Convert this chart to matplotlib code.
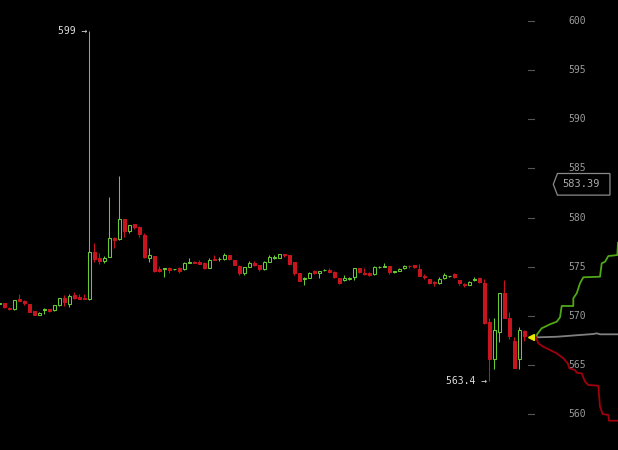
import matplotlib
matplotlib.use("Agg")
import matplotlib.pyplot as plt
import numpy as np
from matplotlib.patches import Polygon

# candles, one per period (oldest first)
opens = [571.26, 571.28, 570.83, 570.67, 571.72, 571.52, 571.21, 570.50, 570.12, 570.60,
         570.70, 570.60, 571.11, 571.82, 571.21, 572.16, 571.89, 571.85, 571.72, 576.47,
         575.92, 575.62, 576.02, 577.95, 577.79, 579.83, 578.67, 579.32, 579.08, 578.26,
         575.92, 576.09, 574.77, 574.74, 574.84, 574.74, 574.84, 574.74, 575.41, 575.52,
         575.52, 575.41, 574.90, 575.79, 575.76, 575.76, 576.19, 575.69, 575.08, 574.33,
         575.01, 575.35, 575.18, 574.74, 575.52, 575.86, 575.92, 576.26, 576.19, 575.45,
         574.33, 573.72, 573.88, 574.60, 574.33, 574.64, 574.67, 574.50, 573.85, 573.65,
         573.79, 573.92, 574.84, 574.36, 574.40, 574.23, 574.94, 575.01, 575.08, 574.50,
         574.57, 574.84, 575.11, 575.18, 574.74, 574.09, 573.72, 573.41, 573.31, 573.82,
         574.03, 574.23, 573.65, 573.25, 573.14, 573.62, 573.82, 573.31, 569.35, 565.58,
         568.40, 572.30, 569.76, 567.48, 565.62, 568.43]
highs = [571.36, 571.36, 570.90, 571.67, 572.23, 571.57, 571.26, 570.55, 570.40, 570.84,
         570.75, 571.16, 571.87, 572.13, 572.23, 572.46, 572.23, 572.18, 599.00, 577.45,
         576.39, 576.09, 582.13, 578.06, 584.23, 579.86, 579.25, 579.35, 579.10, 578.47,
         576.90, 576.14, 575.08, 574.87, 574.94, 574.82, 575.01, 575.52, 575.86, 575.62,
         575.69, 575.45, 575.86, 576.19, 576.02, 576.36, 576.22, 575.72, 575.13, 574.97,
         575.59, 575.62, 575.21, 575.62, 576.19, 576.19, 576.33, 576.29, 576.22, 575.49,
         574.36, 573.92, 574.44, 574.67, 574.60, 574.77, 574.84, 574.54, 573.88, 574.16,
         573.99, 574.87, 574.87, 574.84, 574.50, 575.11, 575.11, 575.35, 575.11, 574.60,
         574.84, 575.18, 575.21, 575.21, 575.28, 574.26, 573.75, 573.55, 573.99, 574.33,
         574.09, 574.33, 573.68, 573.38, 573.58, 573.99, 573.88, 573.75, 569.76, 569.76,
         572.33, 573.65, 570.37, 567.82, 568.90, 568.53]
lows = [571.21, 570.80, 570.60, 570.65, 571.52, 571.14, 570.40, 570.09, 570.09, 570.23,
        570.45, 570.55, 571.06, 571.04, 570.94, 571.77, 571.72, 571.72, 571.62, 575.52,
        575.25, 575.42, 575.99, 576.94, 577.72, 578.06, 578.40, 578.81, 578.00, 575.92,
        575.52, 574.50, 574.44, 573.99, 574.40, 574.72, 574.33, 574.70, 575.38, 575.38,
        575.28, 574.77, 574.87, 575.64, 575.62, 575.72, 575.72, 575.13, 574.16, 574.16,
        574.97, 575.08, 574.60, 574.70, 575.49, 575.82, 575.89, 576.02, 575.18, 574.16,
        573.55, 573.11, 573.85, 574.29, 573.82, 574.62, 574.33, 573.90, 573.29, 573.58,
        573.65, 573.65, 574.33, 574.16, 574.06, 574.19, 574.84, 574.97, 574.26, 574.33,
        574.54, 574.80, 574.90, 574.90, 574.06, 573.79, 573.21, 573.07, 573.28, 573.79,
        573.99, 573.88, 573.14, 572.97, 573.11, 573.58, 573.34, 569.21, 563.40, 564.57,
        567.38, 569.79, 567.68, 564.67, 564.60, 567.45]
closes = [571.31, 570.87, 570.67, 571.62, 571.55, 571.31, 570.43, 570.12, 570.33, 570.73,
          570.50, 571.11, 571.82, 571.45, 572.02, 571.82, 571.75, 571.75, 576.50, 575.78,
          575.59, 575.89, 577.89, 577.72, 579.83, 578.67, 579.22, 579.05, 578.30, 576.02,
          576.19, 574.60, 574.60, 574.84, 574.64, 574.79, 574.57, 575.41, 575.46, 575.41,
          575.31, 574.87, 575.69, 575.69, 575.81, 576.19, 575.76, 575.18, 574.40, 574.94,
          575.41, 575.18, 574.74, 575.45, 576.02, 575.96, 576.26, 576.19, 575.28, 574.33,
          573.58, 573.88, 574.40, 574.33, 574.57, 574.67, 574.50, 573.96, 573.34, 573.82,
          573.82, 574.84, 574.50, 574.29, 574.16, 575.01, 575.01, 575.11, 574.50, 574.57,
          574.77, 575.08, 575.05, 574.94, 574.09, 573.92, 573.31, 573.31, 573.72, 574.16,
          574.06, 573.92, 573.31, 573.14, 573.48, 573.79, 573.48, 569.25, 565.58, 568.57,
          572.30, 569.82, 567.99, 564.69, 568.57, 567.92]

# order book depth (cumulative size vs price)
ask_depth = [0, 1.3, 5.7, 14, 20.7, 24, 25.7, 37.3, 37.3, 40.7, 44, 47.3, 64, 65.7,
             69, 72.3, 81.3, 82]
ask_price = [567.82, 568.16, 568.74, 569.15, 569.41, 569.86, 571.01, 571.01, 571.79,
             572.30, 573.32, 573.93, 573.99, 575.35, 575.51, 576.09, 576.19, 577.45]
bid_depth = [0, 2.3, 7.3, 14, 20.7, 27.3, 31.7, 33.3, 39, 40.7, 45.7, 49, 52.3, 62.3,
             64, 66.7, 72.3, 73, 82]
bid_price = [567.82, 567.21, 566.87, 566.53, 566.19, 565.69, 565.18, 564.67, 564.50,
             564.22, 564.16, 563.31, 562.97, 562.90, 560.76, 560.02, 559.92, 559.34, 559.34]
mid_depth = [0, 20.7, 44, 57.3, 60.7, 64, 82]
mid_price = [567.82, 567.88, 568.06, 568.16, 568.23, 568.13, 568.13]

price_ticks = [560, 565, 570, 575, 580, 585, 590, 595, 600]
marked_price = 583.39

GREEN = "#66cc33"
RED = "#c8141e"
MONO = "DejaVu Sans Mono"

fig = plt.figure(figsize=(6.18, 4.5), dpi=100, facecolor="black")
ax = fig.add_axes([0, 0, 1, 1])
ax.set_facecolor("black")

o, h, l, c = (np.array(v) for v in (opens, highs, lows, closes))
x = np.arange(len(c))
up = c >= o
body_lo = np.minimum(o, c)
body_h = np.abs(c - o)

ax.vlines(x[up], l[up], h[up], color=GREEN, lw=0.75, zorder=1)
ax.vlines(x[~up], l[~up], h[~up], color=RED, lw=0.75, zorder=1)
ax.bar(x[up], body_h[up], bottom=body_lo[up], width=0.6, facecolor="black",
       edgecolor=GREEN, lw=0.75, zorder=2)
ax.bar(x[~up], body_h[~up], bottom=body_lo[~up], width=0.6, facecolor=RED,
       edgecolor=RED, lw=0.75, zorder=2)

# high / low markers
imax, imin = int(np.argmax(h)), int(np.argmin(l))
ax.text(imax - 0.45, h[imax], f"{round(h[imax], 1):g} \u2192", ha="right", va="center",
        color="#dddddd", fontsize=7, family=MONO)
ax.text(imin - 0.45, l[imin], f"{round(l[imin], 1):g} \u2192", ha="right", va="center",
        color="#dddddd", fontsize=7, family=MONO)

# current price marker
ax.plot(106.3, bid_price[0], marker="<", color="#e8e800", ms=5, zorder=3)

ax.set_xlim(0.14, 123.74)
ax.set_ylim(556.36, 602.14)
ax.set_xticks([])
ax.set_yticks([])
for s in ax.spines.values():
    s.set_visible(False)

# price scale on the right
ytr = ax.get_yaxis_transform()
for p in price_ticks:
    ax.plot([0.854, 0.864], [p, p], transform=ytr, color="#555555", lw=0.8)
    ax.text(0.9345, p, str(p), transform=ytr, ha="center", va="center",
            color="#9a9a9a", fontsize=7, family=MONO)

# boxed price tag
tag = Polygon([(0.8953, marked_price), (0.902, marked_price + 1.1), (0.987, marked_price + 1.1),
               (0.987, marked_price - 1.1), (0.902, marked_price - 1.1)],
              closed=True, transform=ytr, facecolor="black", edgecolor="#8a8a8a", lw=0.9)
ax.add_patch(tag)
ax.text(0.9398, marked_price, f"{marked_price:.2f}", transform=ytr, ha="center", va="center",
        color="#aaaaaa", fontsize=7.5, family=MONO)

# depth chart
ax2 = fig.add_axes([536 / 618, 0, 82 / 618, 1])
ax2.patch.set_alpha(0)
ax2.plot(mid_depth, mid_price, color="#808080", lw=1.3)
ax2.plot(ask_depth, ask_price, color="#4fa816", lw=1.3)
ax2.plot(bid_depth, bid_price, color="#a0000c", lw=1.3)
ax2.set_xlim(0, 82)
ax2.set_ylim(556.36, 602.14)
ax2.axis("off")

fig.savefig("out.png", dpi=100, facecolor="black")
